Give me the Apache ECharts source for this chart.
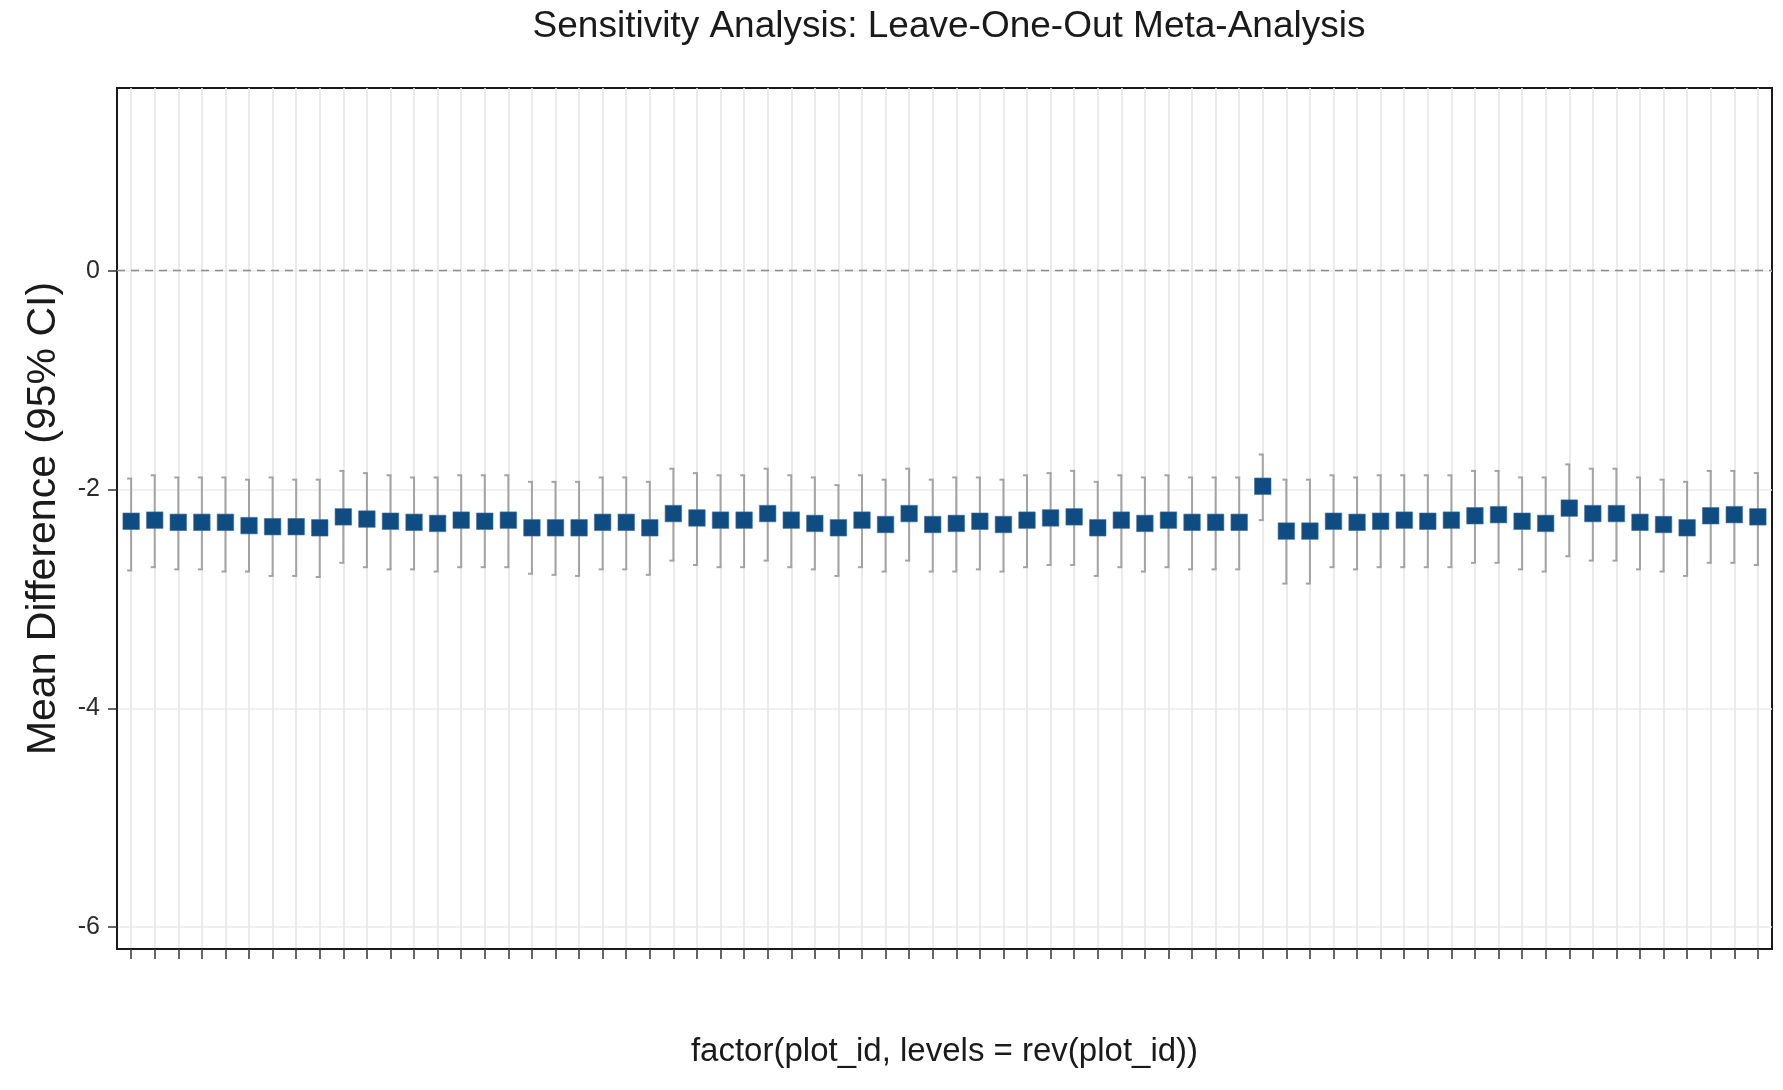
<!DOCTYPE html>
<html><head><meta charset="utf-8">
<script src="https://cdn.jsdelivr.net/npm/echarts@6/dist/echarts.min.js"></script>
<style>html,body{margin:0;padding:0;background:#fff}#c{width:1783px;height:1090px}</style>
</head><body><div id="c"></div>
<script>
// Leave-one-out estimates (mean difference) and 95% CI, in plotted order (left to right)
const est = [-2.29,-2.28,-2.30,-2.30,-2.30,-2.33,-2.34,-2.34,-2.35,-2.25,
  -2.27,-2.29,-2.30,-2.31,-2.28,-2.29,-2.28,-2.35,-2.35,-2.35,
  -2.30,-2.30,-2.35,-2.22,-2.26,-2.28,-2.28,-2.22,-2.28,-2.31,
  -2.35,-2.28,-2.32,-2.22,-2.32,-2.31,-2.29,-2.32,-2.28,-2.26,
  -2.25,-2.35,-2.28,-2.31,-2.28,-2.30,-2.30,-2.30,-1.97,-2.38,
  -2.38,-2.29,-2.30,-2.29,-2.28,-2.29,-2.28,-2.24,-2.23,-2.29,
  -2.31,-2.17,-2.22,-2.22,-2.30,-2.32,-2.35,-2.24,-2.23,-2.25];
const lo = [-2.74,-2.71,-2.73,-2.73,-2.75,-2.75,-2.79,-2.79,-2.80,-2.67,
  -2.71,-2.73,-2.73,-2.75,-2.71,-2.71,-2.71,-2.77,-2.78,-2.79,
  -2.73,-2.73,-2.78,-2.65,-2.69,-2.71,-2.71,-2.65,-2.71,-2.73,
  -2.79,-2.71,-2.75,-2.65,-2.75,-2.75,-2.73,-2.75,-2.71,-2.69,
  -2.69,-2.79,-2.71,-2.75,-2.71,-2.73,-2.73,-2.73,-2.28,-2.86,
  -2.86,-2.71,-2.73,-2.71,-2.71,-2.71,-2.71,-2.67,-2.67,-2.73,
  -2.75,-2.61,-2.65,-2.65,-2.73,-2.75,-2.79,-2.67,-2.67,-2.69];
const hi = [-1.90,-1.87,-1.89,-1.89,-1.89,-1.91,-1.89,-1.91,-1.91,-1.83,
  -1.85,-1.87,-1.89,-1.89,-1.87,-1.87,-1.87,-1.93,-1.93,-1.93,
  -1.89,-1.89,-1.93,-1.81,-1.85,-1.87,-1.87,-1.81,-1.87,-1.89,
  -1.96,-1.87,-1.91,-1.81,-1.91,-1.89,-1.89,-1.91,-1.87,-1.85,
  -1.83,-1.93,-1.87,-1.89,-1.87,-1.89,-1.89,-1.89,-1.68,-1.91,
  -1.91,-1.87,-1.89,-1.87,-1.87,-1.87,-1.87,-1.83,-1.83,-1.89,
  -1.89,-1.77,-1.81,-1.81,-1.89,-1.91,-1.93,-1.83,-1.83,-1.85];
const yTicks = [-6, -4, -2, 0];
const titleText = 'Sensitivity Analysis: Leave-One-Out Meta-Analysis';
const xTitle = 'factor(plot_id, levels = rev(plot_id))';
const yTitle = 'Mean Difference (95% CI)';

// category positions 1..n (discrete axis)
const xPos = est.map((_, i) => i + 1);

const FONT = "'Liberation Sans', Arial, sans-serif";
const chart = echarts.init(document.getElementById('c'), null, {renderer: 'canvas'});
const option = {
  backgroundColor: '#ffffff',
  animation: false,
  title: {
    text: titleText, left: 944, top: 3, textAlign: 'center',
    textStyle: {fontFamily: FONT, fontSize: 37, fontWeight: 'normal', color: '#1a1a1a'}
  },
  grid: {left: 117, right: 11, top: 88, bottom: 141, show: true,
    borderColor: '#1a1a1a', borderWidth: 2, backgroundColor: 'transparent'},
  xAxis: {
    type: 'value', min: 0.4, max: 70.6,
    name: xTitle, nameLocation: 'middle', nameGap: 86,
    nameTextStyle: {fontFamily: FONT, fontSize: 33, color: '#1a1a1a'},
    axisLine: {show: true, onZero: false, lineStyle: {color: '#1a1a1a', width: 2}},
    axisTick: {show: true, customValues: xPos, length: 10, lineStyle: {color: '#333333', width: 1.5}},
    axisLabel: {show: false},
    splitLine: {show: true, lineStyle: {color: '#e6e6e6', width: 1.6}}
  },
  yAxis: {
    type: 'value', min: -6.2, max: 1.67,
    name: yTitle, nameLocation: 'middle', nameGap: 53, nameRotate: 90,
    nameTextStyle: {fontFamily: FONT, fontSize: 41, color: '#1a1a1a'},
    axisLine: {show: true, onZero: false, lineStyle: {color: '#1a1a1a', width: 2}},
    axisTick: {show: true, customValues: yTicks, length: 9, lineStyle: {color: '#333333', width: 1.5}},
    axisLabel: {show: true, customValues: yTicks, margin: 17, fontFamily: FONT, fontSize: 25, color: '#2b2b2b'},
    splitLine: {show: true, lineStyle: {color: '#ebebeb', width: 1.6}}
  },
  series: [
    {
      type: 'custom',
      z: 2,
      data: xPos.map((x, i) => [x, lo[i], hi[i]]),
      renderItem: function (params, api) {
        const x = api.value(0);
        const pL = api.coord([x, api.value(1)]);
        const pH = api.coord([x, api.value(2)]);
        const st = {stroke: '#a3a3a3', lineWidth: 2};
        return {type: 'group', children: [
          {type: 'line', shape: {x1: pL[0], y1: pL[1], x2: pH[0], y2: pH[1]}, style: st},
          {type: 'line', shape: {x1: pH[0] - 4, y1: pH[1], x2: pH[0] + 1, y2: pH[1]}, style: st},
          {type: 'line', shape: {x1: pL[0] - 4, y1: pL[1], x2: pL[0] + 1, y2: pL[1]}, style: st}
        ]};
      }
    },
    {
      type: 'scatter',
      z: 3,
      symbol: 'rect',
      symbolSize: 16.5,
      itemStyle: {color: '#0f4c81', borderColor: '#3f6f9f', borderWidth: 0.6, opacity: 1},
      data: xPos.map((x, i) => [x, est[i]]),
      markLine: {
        silent: true, symbol: 'none', label: {show: false}, animation: false,
        lineStyle: {color: '#8c8c8c', type: [8, 6], width: 1.4},
        data: [{yAxis: 0}]
      }
    }
  ]
};
chart.setOption(option);
</script></body></html>
